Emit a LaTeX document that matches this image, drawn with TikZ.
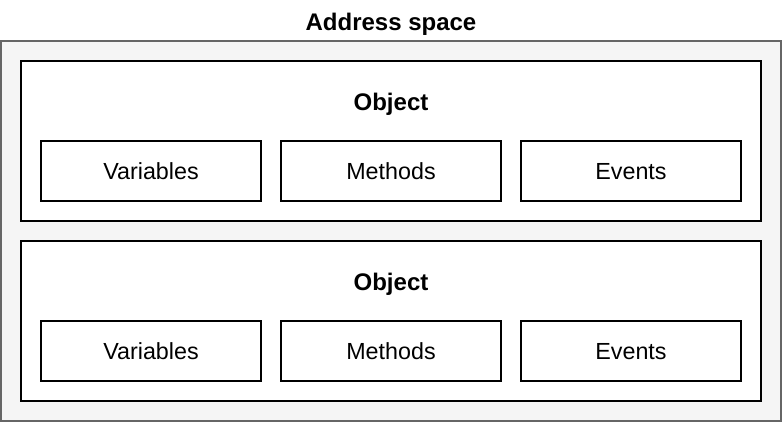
\documentclass[tikz,border=0pt]{standalone}
\usepackage{fontspec}
\setmainfont{Liberation Sans}
\definecolor{outerfill}{HTML}{F5F5F5}
\definecolor{outerline}{HTML}{666666}
\begin{document}
\begin{tikzpicture}[x=1pt,y=-1pt,
  outerbox/.style={draw=outerline,fill=outerfill,line width=2pt},
  objbox/.style={draw=black,fill=white,line width=2pt},
  partbox/.style={draw=black,fill=white,line width=2pt,minimum width=220pt,minimum height=60pt,inner sep=0pt,text height=16.7pt,text depth=0pt,font=\fontsize{23.3}{28}\selectfont},
  titletext/.style={font=\bfseries\fontsize{24}{28}\selectfont,inner sep=0pt,text height=17.2pt,text depth=0pt}]
\useasboundingbox (0,0) rectangle (782,422);
\draw[outerbox] (1,41) rectangle (780.5,420.5);
\node[titletext] (title) at (391,22) {Address space};
\foreach \y/\n in {61/a,241/b}{
  \draw[objbox] (21,\y) rectangle (761,\y+160);
  \node[titletext] (obj\n) at (391,\y+41) {Object};
  \node[partbox] (var\n) at (151,\y+110) {Variables};
  \node[partbox] (met\n) at (391,\y+110) {Methods};
  \node[partbox] (evt\n) at (631,\y+110) {Events};
}
\end{tikzpicture}
\end{document}
